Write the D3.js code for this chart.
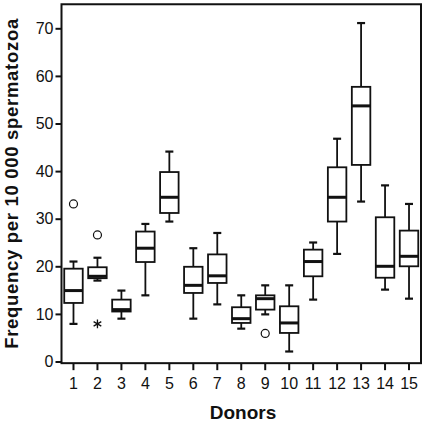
<!DOCTYPE html>
<html>
<head>
<meta charset="utf-8">
<script src="https://cdn.jsdelivr.net/npm/d3@7"></script>
<style>
  html, body { margin: 0; padding: 0; background: #fff; }
  svg { display: block; font-family: "Liberation Sans", Arial, sans-serif; }
</style>
</head>
<body>
<svg id="chart" width="426" height="423"></svg>
<script>
// ---- data ----
const donors      = ["1","2","3","4","5","6","7","8","9","10","11","12","13","14","15"];
const whiskerLow  = [7.9, 17.0, 9.0, 13.9, 29.4, 9.0, 12.0, 6.9, 9.9, 2.1, 13.0, 22.6, 33.6, 15.1, 13.2];
const q1          = [12.3, 17.5, 10.5, 20.9, 31.2, 14.4, 16.5, 8.1, 10.9, 6.0, 17.9, 29.4, 41.3, 17.6, 20.0];
const medians     = [14.9, 17.9, 10.9, 23.8, 34.5, 16.0, 18.0, 9.0, 13.2, 8.1, 21.0, 34.5, 53.7, 20.0, 22.1];
const q3          = [19.5, 19.8, 13.0, 27.3, 39.8, 19.9, 22.5, 11.4, 13.9, 11.6, 23.5, 40.8, 57.7, 30.3, 27.5];
const whiskerHigh = [21.0, 21.8, 14.9, 28.9, 44.1, 23.8, 27.0, 13.9, 16.0, 16.0, 25.0, 46.8, 71.1, 37.0, 33.1];
const outlierDonors = ["1", "2", "9"];
const outlierValues = [33.1, 26.6, 5.9];
const extremeDonors = ["2"];
const extremeValues = [7.9];
const yTicks = [0, 10, 20, 30, 40, 50, 60, 70];
const yTitle = "Frequency per 10 000 spermatozoa";
const xTitle = "Donors";

(function () {
// ---- layout ----
const svg = d3.select("#chart");
const ink = "#111";
const x = d3.scaleBand().domain(donors).range([61.5, 421]).padding(0);
const y = d3.scaleLinear().domain([0, 70]).range([361.5, 28.3]);
const bw = x.bandwidth();
const boxW = 18.5, capW = 8;
const cx = d => x(d) + bw / 2;

const rows = donors.map((d, i) => ({
  d, lo: whiskerLow[i], q1: q1[i], med: medians[i], q3: q3[i], hi: whiskerHigh[i]
}));

// frame
const frameTop = y(75.05), frameBottom = y(-0.35);
svg.append("rect")
  .attr("x", x.range()[0]).attr("y", frameTop)
  .attr("width", x.range()[1] - x.range()[0]).attr("height", frameBottom - frameTop)
  .attr("fill", "none").attr("stroke", ink).attr("stroke-width", 2);

// axes
const yAxis = svg.append("g")
  .attr("transform", `translate(${x.range()[0]},0)`)
  .call(d3.axisLeft(y).tickValues(yTicks).tickSize(6).tickPadding(2));
const xAxis = svg.append("g")
  .attr("transform", `translate(0,${frameBottom})`)
  .call(d3.axisBottom(x).tickSize(7).tickPadding(7));
[yAxis, xAxis].forEach(g => {
  g.select(".domain").remove();
  g.selectAll(".tick line").attr("stroke", ink).attr("stroke-width", 2);
  g.selectAll(".tick text").attr("fill", ink).style("font-size", "16px")
    .style("font-family", "'Liberation Sans', Arial, sans-serif");
});

// boxes
const g = svg.append("g").attr("stroke", ink).attr("stroke-width", 1.8).attr("fill", "none");
const b = g.selectAll(".box").data(rows).join("g").attr("class", "box");
b.append("line").attr("x1", r => cx(r.d)).attr("x2", r => cx(r.d))
  .attr("y1", r => y(r.hi)).attr("y2", r => y(r.q3));
b.append("line").attr("x1", r => cx(r.d)).attr("x2", r => cx(r.d))
  .attr("y1", r => y(r.q1)).attr("y2", r => y(r.lo));
b.append("line").attr("x1", r => cx(r.d) - capW / 2).attr("x2", r => cx(r.d) + capW / 2)
  .attr("y1", r => y(r.hi)).attr("y2", r => y(r.hi)).attr("stroke-width", 2.2);
b.append("line").attr("x1", r => cx(r.d) - capW / 2).attr("x2", r => cx(r.d) + capW / 2)
  .attr("y1", r => y(r.lo)).attr("y2", r => y(r.lo)).attr("stroke-width", 2.2);
b.append("rect").attr("x", r => cx(r.d) - boxW / 2).attr("width", boxW)
  .attr("y", r => y(r.q3)).attr("height", r => y(r.q1) - y(r.q3))
  .attr("fill", "#fff");
b.append("line").attr("x1", r => cx(r.d) - boxW / 2).attr("x2", r => cx(r.d) + boxW / 2)
  .attr("y1", r => y(r.med)).attr("y2", r => y(r.med)).attr("stroke-width", 3);

// outliers (open circles)
svg.selectAll(".out").data(outlierDonors.map((d, i) => ({d, v: outlierValues[i]})))
  .join("circle").attr("class", "out")
  .attr("cx", r => cx(r.d)).attr("cy", r => y(r.v)).attr("r", 4)
  .attr("fill", "none").attr("stroke", ink).attr("stroke-width", 1.2);

// extremes (asterisks)
svg.selectAll(".ext").data(extremeDonors.map((d, i) => ({d, v: extremeValues[i]})))
  .join("path").attr("class", "ext")
  .attr("transform", r => `translate(${cx(r.d)},${y(r.v)})`)
  .attr("d", d3.symbol().type(d3.symbolAsterisk).size(55))
  .attr("fill", "none").attr("stroke", ink).attr("stroke-width", 1.3);

// titles
svg.append("text")
  .attr("transform", "translate(17.5,183.8) rotate(-90)")
  .attr("text-anchor", "middle").attr("fill", ink)
  .attr("textLength", 330).attr("lengthAdjust", "spacing")
  .style("font-size", "18.5px").style("font-weight", "bold")
  .text(yTitle);
svg.append("text")
  .attr("x", 243).attr("y", 419)
  .attr("text-anchor", "middle").attr("fill", ink)
  .style("font-size", "19px").style("font-weight", "bold")
  .text(xTitle);
})();
</script>
</body>
</html>
